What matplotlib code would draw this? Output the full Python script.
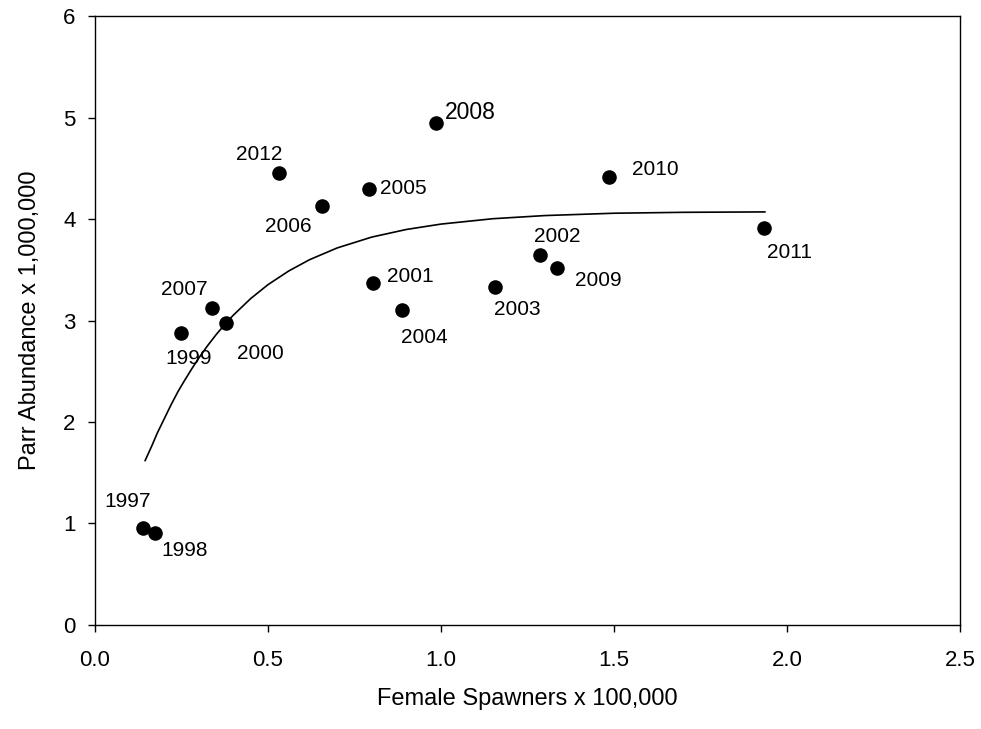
import matplotlib
matplotlib.use("Agg")
import matplotlib.pyplot as plt

plt.rcParams['font.family'] = ['Liberation Sans', 'DejaVu Sans']

# Data
years = ['1997', '1998', '1999', '2007', '2000', '2012', '2006', '2005',
         '2008', '2001', '2004', '2003', '2002', '2009', '2010', '2011']
spawners = [0.139, 0.173, 0.249, 0.338, 0.379, 0.532, 0.655, 0.792,
            0.985, 0.804, 0.888, 1.156, 1.286, 1.335, 1.485, 1.933]
parr = [0.96, 0.91, 2.88, 3.12, 2.98, 4.45, 4.13, 4.30,
        4.95, 3.37, 3.10, 3.33, 3.65, 3.52, 4.41, 3.91]
# label offsets in pixels (dx, dy) relative to point
label_dx = [-15, 30, 8, -28, 34, -20, -33, 34, 35, 37, 22, 22, 17, 41, 47, 26]
label_dy = [26, -18, -26, 19, -31, 19, -21, 0, 10, 6, -27, -22, 18, -13, 8, -24]
label_size = [15, 15, 15, 15, 15, 15, 15, 15, 16.5, 15, 15, 15, 15, 15, 15, 15]

# Fitted curve points
curve_x = [0.145, 0.165, 0.18, 0.20, 0.22, 0.24, 0.26, 0.28, 0.30, 0.325,
           0.35, 0.375, 0.40, 0.45, 0.50, 0.56, 0.62, 0.70, 0.80, 0.90,
           1.00, 1.15, 1.30, 1.50, 1.70, 1.936]
curve_y = [1.62, 1.77, 1.89, 2.03, 2.17, 2.30, 2.415, 2.525, 2.63, 2.75,
           2.86, 2.96, 3.053, 3.216, 3.353, 3.488, 3.599, 3.715, 3.822, 3.897,
           3.95, 4.003, 4.034, 4.057, 4.066, 4.07]

fig = plt.figure(figsize=(9.81, 7.29), dpi=100)
ax = fig.add_axes([0.0968, 0.1427, 0.8818, 0.8353])

ax.plot(curve_x, curve_y, color='black', lw=1.2, zorder=2)
ax.scatter(spawners, parr, s=110, color='black', zorder=3, linewidths=0)

for yr, x, y, dx, dy, fs in zip(years, spawners, parr, label_dx, label_dy, label_size):
    ax.annotate(yr, (x, y), xytext=(dx, dy), textcoords='offset pixels',
                ha='center', va='center', fontsize=fs)

ax.set_xlim(0, 2.5)
ax.set_ylim(0, 6)
ax.set_xticks([0.0, 0.5, 1.0, 1.5, 2.0, 2.5])
ax.set_xticklabels(['0.0', '0.5', '1.0', '1.5', '2.0', '2.5'])
ax.set_yticks([0, 1, 2, 3, 4, 5, 6])
ax.tick_params(direction='out', length=5, width=1, labelsize=16)
ax.tick_params(axis='x', pad=13)
ax.tick_params(axis='y', pad=9)
for s in ax.spines.values():
    s.set_linewidth(1)

ax.set_xlabel('Female Spawners x 100,000', fontsize=17, labelpad=12)
ax.set_ylabel('Parr Abundance x 1,000,000', fontsize=17, labelpad=16)

fig.savefig('out.png', dpi=100)
